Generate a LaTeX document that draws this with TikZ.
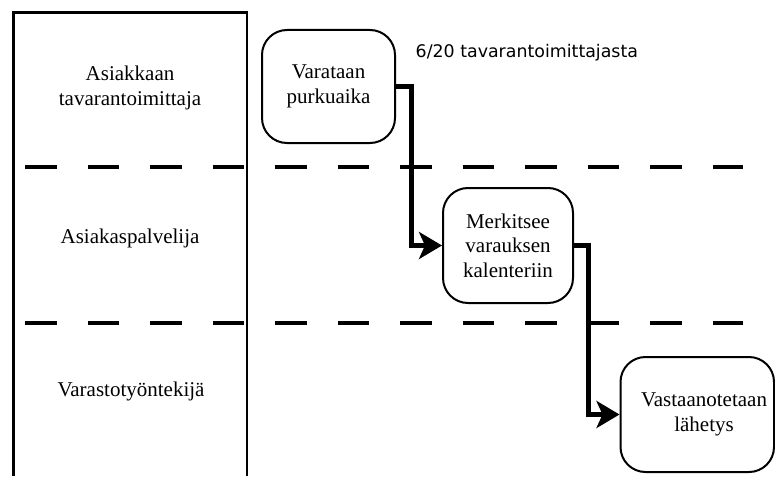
\documentclass[tikz,border=0pt]{standalone}
\usepackage{fontspec}
\setmainfont{Liberation Serif}
\newfontfamily\notefont{DejaVu Sans}
\usetikzlibrary{arrows.meta}

\tikzset{
  lanelabel/.style={align=center, font=\rmfamily\fontsize{21}{24.5}\selectfont, inner sep=0pt},
  stepbox/.style={draw, line width=2pt, rounded corners=25pt, align=center,
    font=\rmfamily\fontsize{21}{24.5}\selectfont, inner sep=0pt},
  frameline/.style={line width=2.7pt},
  lanedash/.style={line width=4pt, dash pattern=on 31.5pt off 31pt},
  flow/.style={line width=5pt, -{Stealth[length=23pt,width=27pt,inset=6pt]}},
  note/.style={font=\notefont\fontsize{17.4}{20}\selectfont, anchor=west, inner sep=0pt}
}

\begin{document}
\begin{tikzpicture}[x=1pt, y=-1pt]
  \useasboundingbox (0,0) rectangle (775,476);
  \fill[white] (0,0) rectangle (775,476);

  % role column frame
  \draw[frameline] (13.5,476) -- (13.5,12.5) -- (247,12.5) -- (247,476);

  % lane separators
  \draw[lanedash] (25,166.5) -- (743,166.5);
  \draw[lanedash] (25,323) -- (743,323);

  % lane titles
  \node[lanelabel] (lane1) at (130,88) {Asiakkaan\\tavarantoimittaja};
  \node[lanelabel] (lane2) at (130,238) {Asiakaspalvelija};
  \node[lanelabel] (lane3) at (131,391) {Varastotyöntekijä};

  % process steps
  \node[stepbox, minimum width=133pt, minimum height=113pt] (book) at (328.5,86.5)
    {Varataan\\purkuaika};
  \node[stepbox, minimum width=130pt, minimum height=115pt] (mark) at (508,245.5)
    {Merkitsee\\varauksen\\kalenteriin};
  \node[stepbox, minimum width=153.5pt, minimum height=115pt] (recv) at (697.25,414.5) {};
  \node[lanelabel] (recvtext) at (704,414.5) {Vastaanotetaan\\lähetys};

  % annotation
  \node[note] (share) at (415.5,53) {6/20 tavarantoimittajasta};

  % flow between steps
  \draw[flow] (book.east) -- ++(15,0) |- (mark.west);
  \draw[flow] (mark.east) -- ++(14.5,0) |- (recv.west);
\end{tikzpicture}
\end{document}
